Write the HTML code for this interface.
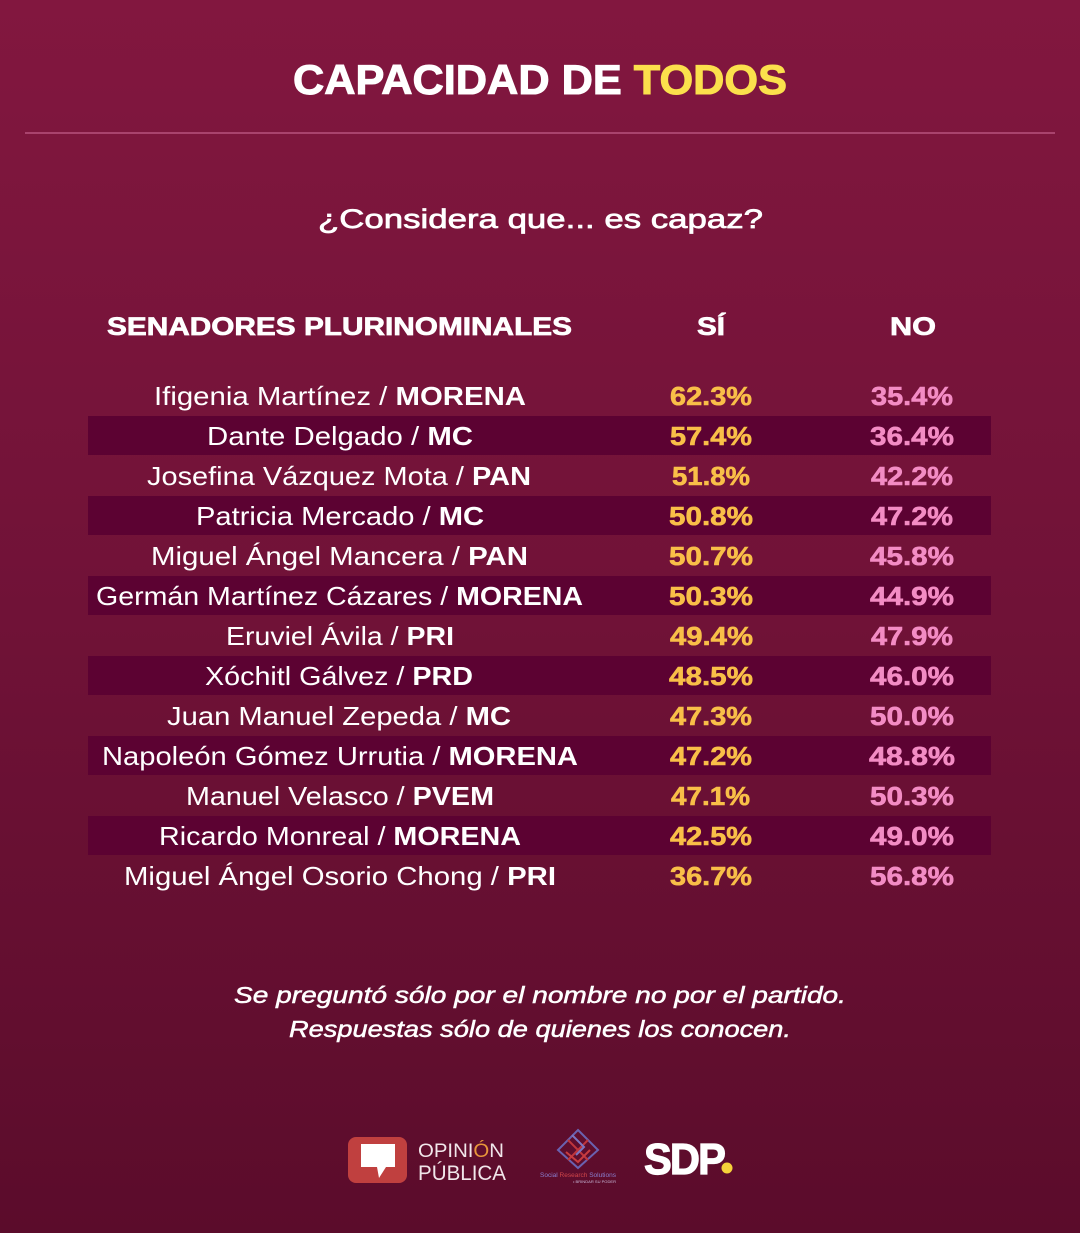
<!DOCTYPE html>
<html><head><meta charset="utf-8"><style>
html,body{margin:0;padding:0;}
body{width:1080px;height:1233px;overflow:hidden;}
svg{display:block;}
text{font-family:"Liberation Sans",sans-serif;}
</style></head><body>
<svg width="1080" height="1233" viewBox="0 0 1080 1233" xmlns="http://www.w3.org/2000/svg">
<defs>
<linearGradient id="bg" x1="0" y1="0" x2="0" y2="1">
<stop offset="0" stop-color="#82173f"/>
<stop offset="0.5" stop-color="#701237"/>
<stop offset="1" stop-color="#5b0c2b"/>
</linearGradient>
</defs>
<rect width="1080" height="1233" fill="url(#bg)"/>

<!-- Title -->
<text x="293" y="94" font-size="42" font-weight="bold" fill="#ffffff" stroke="#ffffff" stroke-width="1" textLength="494" lengthAdjust="spacingAndGlyphs">CAPACIDAD DE <tspan fill="#fbe04c" stroke="#fbe04c">TODOS</tspan></text>
<rect x="25" y="132" width="1030" height="2" fill="#a9436d"/>

<!-- Subtitle -->
<text x="318" y="228" font-size="27" fill="#ffffff" stroke="#ffffff" stroke-width="0.7" textLength="445" lengthAdjust="spacingAndGlyphs">¿Considera que... es capaz?</text>

<!-- Header -->
<g font-size="25" font-weight="bold" fill="#ffffff" stroke="#ffffff" stroke-width="0.7">
<text x="107" y="335" textLength="465" lengthAdjust="spacingAndGlyphs">SENADORES PLURINOMINALES</text>
<text x="697" y="335" textLength="28" lengthAdjust="spacingAndGlyphs">SÍ</text>
<text x="890" y="335" textLength="46" lengthAdjust="spacingAndGlyphs">NO</text>
</g>

<!-- Stripes -->
<g fill="#5c0232">
<rect x="88" y="416" width="903" height="39"/>
<rect x="88" y="496" width="903" height="39"/>
<rect x="88" y="576" width="903" height="39"/>
<rect x="88" y="656" width="903" height="39"/>
<rect x="88" y="736" width="903" height="39"/>
<rect x="88" y="816" width="903" height="39"/>
</g>

<!-- Names -->
<g font-size="26" fill="#ffffff">
<text x="154" y="405" textLength="372" lengthAdjust="spacingAndGlyphs">Ifigenia Martínez / <tspan font-weight="bold">MORENA</tspan></text>
<text x="207" y="445" textLength="266" lengthAdjust="spacingAndGlyphs">Dante Delgado / <tspan font-weight="bold">MC</tspan></text>
<text x="147" y="485" textLength="384" lengthAdjust="spacingAndGlyphs">Josefina Vázquez Mota / <tspan font-weight="bold">PAN</tspan></text>
<text x="196" y="525" textLength="288" lengthAdjust="spacingAndGlyphs">Patricia Mercado / <tspan font-weight="bold">MC</tspan></text>
<text x="151" y="565" textLength="377" lengthAdjust="spacingAndGlyphs">Miguel Ángel Mancera / <tspan font-weight="bold">PAN</tspan></text>
<text x="96" y="605" textLength="487" lengthAdjust="spacingAndGlyphs">Germán Martínez Cázares / <tspan font-weight="bold">MORENA</tspan></text>
<text x="226" y="645" textLength="228" lengthAdjust="spacingAndGlyphs">Eruviel Ávila / <tspan font-weight="bold">PRI</tspan></text>
<text x="205" y="685" textLength="268" lengthAdjust="spacingAndGlyphs">Xóchitl Gálvez / <tspan font-weight="bold">PRD</tspan></text>
<text x="167" y="725" textLength="344" lengthAdjust="spacingAndGlyphs">Juan Manuel Zepeda / <tspan font-weight="bold">MC</tspan></text>
<text x="102" y="765" textLength="476" lengthAdjust="spacingAndGlyphs">Napoleón Gómez Urrutia / <tspan font-weight="bold">MORENA</tspan></text>
<text x="186" y="805" textLength="308" lengthAdjust="spacingAndGlyphs">Manuel Velasco / <tspan font-weight="bold">PVEM</tspan></text>
<text x="159" y="845" textLength="362" lengthAdjust="spacingAndGlyphs">Ricardo Monreal / <tspan font-weight="bold">MORENA</tspan></text>
<text x="124" y="885" textLength="432" lengthAdjust="spacingAndGlyphs">Miguel Ángel Osorio Chong / <tspan font-weight="bold">PRI</tspan></text>
</g>

<!-- SI values -->
<g font-size="26" font-weight="bold" fill="#f9bf48" stroke="#f9bf48" stroke-width="0.6">
<text x="670" y="405" textLength="82" lengthAdjust="spacingAndGlyphs">62.3%</text>
<text x="670" y="445" textLength="82" lengthAdjust="spacingAndGlyphs">57.4%</text>
<text x="672" y="485" textLength="78" lengthAdjust="spacingAndGlyphs">51.8%</text>
<text x="669" y="525" textLength="84" lengthAdjust="spacingAndGlyphs">50.8%</text>
<text x="669" y="565" textLength="84" lengthAdjust="spacingAndGlyphs">50.7%</text>
<text x="669" y="605" textLength="84" lengthAdjust="spacingAndGlyphs">50.3%</text>
<text x="670" y="645" textLength="83" lengthAdjust="spacingAndGlyphs">49.4%</text>
<text x="669" y="685" textLength="84" lengthAdjust="spacingAndGlyphs">48.5%</text>
<text x="670" y="725" textLength="82" lengthAdjust="spacingAndGlyphs">47.3%</text>
<text x="670" y="765" textLength="82" lengthAdjust="spacingAndGlyphs">47.2%</text>
<text x="671" y="805" textLength="79" lengthAdjust="spacingAndGlyphs">47.1%</text>
<text x="670" y="845" textLength="82" lengthAdjust="spacingAndGlyphs">42.5%</text>
<text x="670" y="885" textLength="82" lengthAdjust="spacingAndGlyphs">36.7%</text>
</g>

<!-- NO values -->
<g font-size="26" font-weight="bold" fill="#f38cc4" stroke="#f38cc4" stroke-width="0.6">
<text x="871" y="405" textLength="82" lengthAdjust="spacingAndGlyphs">35.4%</text>
<text x="870" y="445" textLength="84" lengthAdjust="spacingAndGlyphs">36.4%</text>
<text x="871" y="485" textLength="82" lengthAdjust="spacingAndGlyphs">42.2%</text>
<text x="871" y="525" textLength="82" lengthAdjust="spacingAndGlyphs">47.2%</text>
<text x="870" y="565" textLength="84" lengthAdjust="spacingAndGlyphs">45.8%</text>
<text x="870" y="605" textLength="84" lengthAdjust="spacingAndGlyphs">44.9%</text>
<text x="871" y="645" textLength="82" lengthAdjust="spacingAndGlyphs">47.9%</text>
<text x="870" y="685" textLength="84" lengthAdjust="spacingAndGlyphs">46.0%</text>
<text x="870" y="725" textLength="84" lengthAdjust="spacingAndGlyphs">50.0%</text>
<text x="869" y="765" textLength="86" lengthAdjust="spacingAndGlyphs">48.8%</text>
<text x="870" y="805" textLength="84" lengthAdjust="spacingAndGlyphs">50.3%</text>
<text x="870" y="845" textLength="84" lengthAdjust="spacingAndGlyphs">49.0%</text>
<text x="870" y="885" textLength="84" lengthAdjust="spacingAndGlyphs">56.8%</text>
</g>

<!-- Footnote -->
<g font-size="23" font-style="italic" fill="#ffffff" stroke="#ffffff" stroke-width="0.5">
<text x="234" y="1003" textLength="612" lengthAdjust="spacingAndGlyphs">Se preguntó sólo por el nombre no por el partido.</text>
<text x="289" y="1037" textLength="502" lengthAdjust="spacingAndGlyphs">Respuestas sólo de quienes los conocen.</text>
</g>

<!-- Logo: Opinión Pública -->
<rect x="348" y="1137" width="59" height="46" rx="8" fill="#c0403f"/>
<path d="M361 1144 H395 V1167 H386 L379 1178 L377 1167 H361 Z" fill="#ffffff"/>
<text x="418" y="1157" font-size="19" fill="#f1e6ea" textLength="86" lengthAdjust="spacingAndGlyphs">OPINI<tspan fill="#e8963a">Ó</tspan>N</text>
<text x="418" y="1180" font-size="21" fill="#f1e6ea" textLength="88" lengthAdjust="spacingAndGlyphs">PÚBLICA</text>

<!-- Logo: Social Research Solutions -->
<g fill="none" stroke-width="2">
<path d="M578 1130 L598 1150 L578 1168 L558 1150 Z" stroke="#6a62b0"/>
<path d="M568 1140 L588 1160 M588 1140 L568 1160" stroke="#c0363c"/>
<path d="M572 1135 L584 1147 L576 1155" stroke="#7b74c0"/>
<path d="M566 1152 L578 1162 L590 1150" stroke="#c83c40"/>
</g>
<text x="540" y="1177" font-size="6.5" fill="#8a7fd0" textLength="76" lengthAdjust="spacingAndGlyphs">Social <tspan fill="#d0454a">Research</tspan> Solutions</text>
<text x="573" y="1183" font-size="3.5" fill="#c8b8d8" textLength="43" lengthAdjust="spacingAndGlyphs">• BRINDAR SU PODER</text>

<!-- Logo: SDP -->
<text x="644" y="1174" font-size="44" font-weight="bold" fill="#ffffff" stroke="#ffffff" stroke-width="1.2" textLength="80" lengthAdjust="spacingAndGlyphs" letter-spacing="-2">SDP</text>
<circle cx="727" cy="1168" r="5.5" fill="#f6d23a"/>
</svg>
</body></html>
